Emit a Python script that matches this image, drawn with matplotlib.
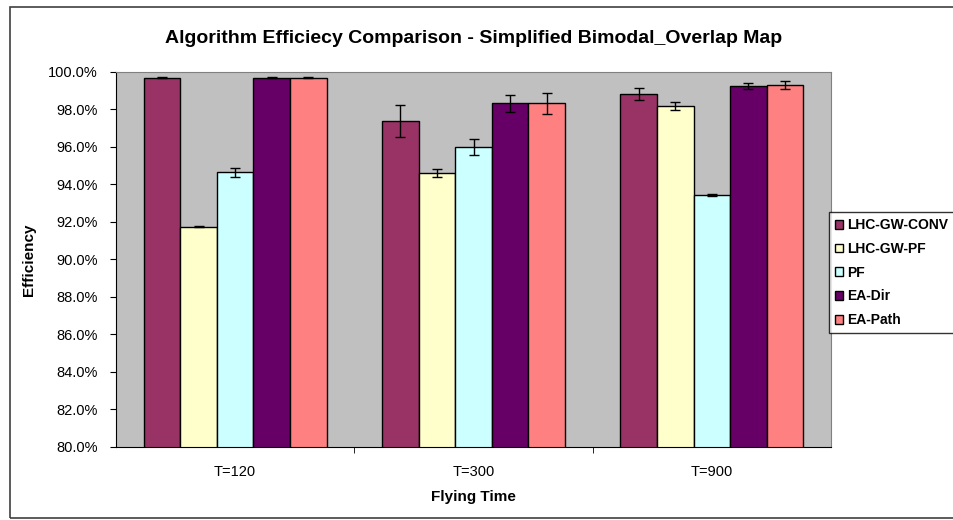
import numpy as np
from matplotlib import pyplot as plt
from matplotlib.patches import Rectangle
from matplotlib.ticker import FuncFormatter, MultipleLocator

categories = ["T=120", "T=300", "T=900"]
series = ["LHC-GW-CONV", "LHC-GW-PF", "PF", "EA-Dir", "EA-Path"]
colors = ["#993366", "#FFFFCC", "#CCFFFF", "#660066", "#FF8080"]

# efficiency in percent, one list per series (T=120, T=300, T=900)
conv = [99.70, 97.40, 98.83]
gw_pf = [91.75, 94.60, 98.20]
pf = [94.65, 96.00, 93.42]
ea_dir = [99.70, 98.33, 99.25]
ea_path = [99.70, 98.33, 99.30]

conv_err = [0.02, 0.85, 0.33]
gw_pf_err = [0.02, 0.20, 0.22]
pf_err = [0.25, 0.45, 0.05]
ea_dir_err = [0.02, 0.45, 0.15]
ea_path_err = [0.02, 0.55, 0.20]

values = [conv, gw_pf, pf, ea_dir, ea_path]
errors = [conv_err, gw_pf_err, pf_err, ea_dir_err, ea_path_err]

plt.rcParams["font.family"] = ["Liberation Sans", "DejaVu Sans"]

fig = plt.figure(figsize=(9.54, 5.2), dpi=100)
ax = fig.add_axes([0.1216, 0.1404, 0.7495, 0.7212])
ax.set_facecolor("#C0C0C0")

x = np.arange(len(categories))
width = 0.768 / len(series)
for i in range(len(series)):
	pos = x - 0.384 + width * (i + 0.5)
	ax.bar(pos, values[i], width, bottom=0, color=colors[i], edgecolor="black",
		linewidth=1, label=series[i], zorder=2)
	ax.errorbar(pos, values[i], yerr=errors[i], fmt="none", ecolor="black",
		elinewidth=1, capsize=3.5, capthick=1, zorder=3)

ax.set_xlim(-0.5, 2.5)
ax.set_ylim(80, 100)
ax.yaxis.set_major_locator(MultipleLocator(2))
ax.yaxis.set_major_formatter(FuncFormatter(lambda v, p: "%.1f%%" % v))
ax.set_xticks(x)
ax.set_xticklabels(categories)
ax.set_xticks([0.5, 1.5], minor=True)
ax.tick_params(axis="x", which="major", length=0, pad=13, labelsize=10.5)
ax.tick_params(axis="x", which="minor", length=4, direction="out")
ax.tick_params(axis="y", length=4, direction="out", labelsize=10.5, pad=9)

for s in ["top", "right"]:
	ax.spines[s].set_color("#808080")
for s in ["left", "bottom"]:
	ax.spines[s].set_color("black")

ax.set_title("Algorithm Efficiecy Comparison - Simplified Bimodal_Overlap Map",
	fontsize=14, fontweight="bold", pad=21)
ax.set_xlabel("Flying Time", fontsize=11, fontweight="bold", labelpad=8)
ax.set_ylabel("Efficiency", fontsize=11, fontweight="bold", labelpad=9)

leg = ax.legend(loc="upper left", bbox_to_anchor=(0.9965, 0.627),
	prop={"weight": "bold", "size": 10}, frameon=True, fancybox=False,
	edgecolor="black", handlelength=0.6, handleheight=0.6, handletextpad=0.3,
	labelspacing=0.7, borderpad=0.45, borderaxespad=0)
leg.get_frame().set_linewidth(1)

fig.patches.append(Rectangle((10 / 954, 2 / 520), 960 / 954, 511 / 520,
	transform=fig.transFigure, fill=False, edgecolor="#404040", linewidth=1.2))

plt.savefig("out.png")
